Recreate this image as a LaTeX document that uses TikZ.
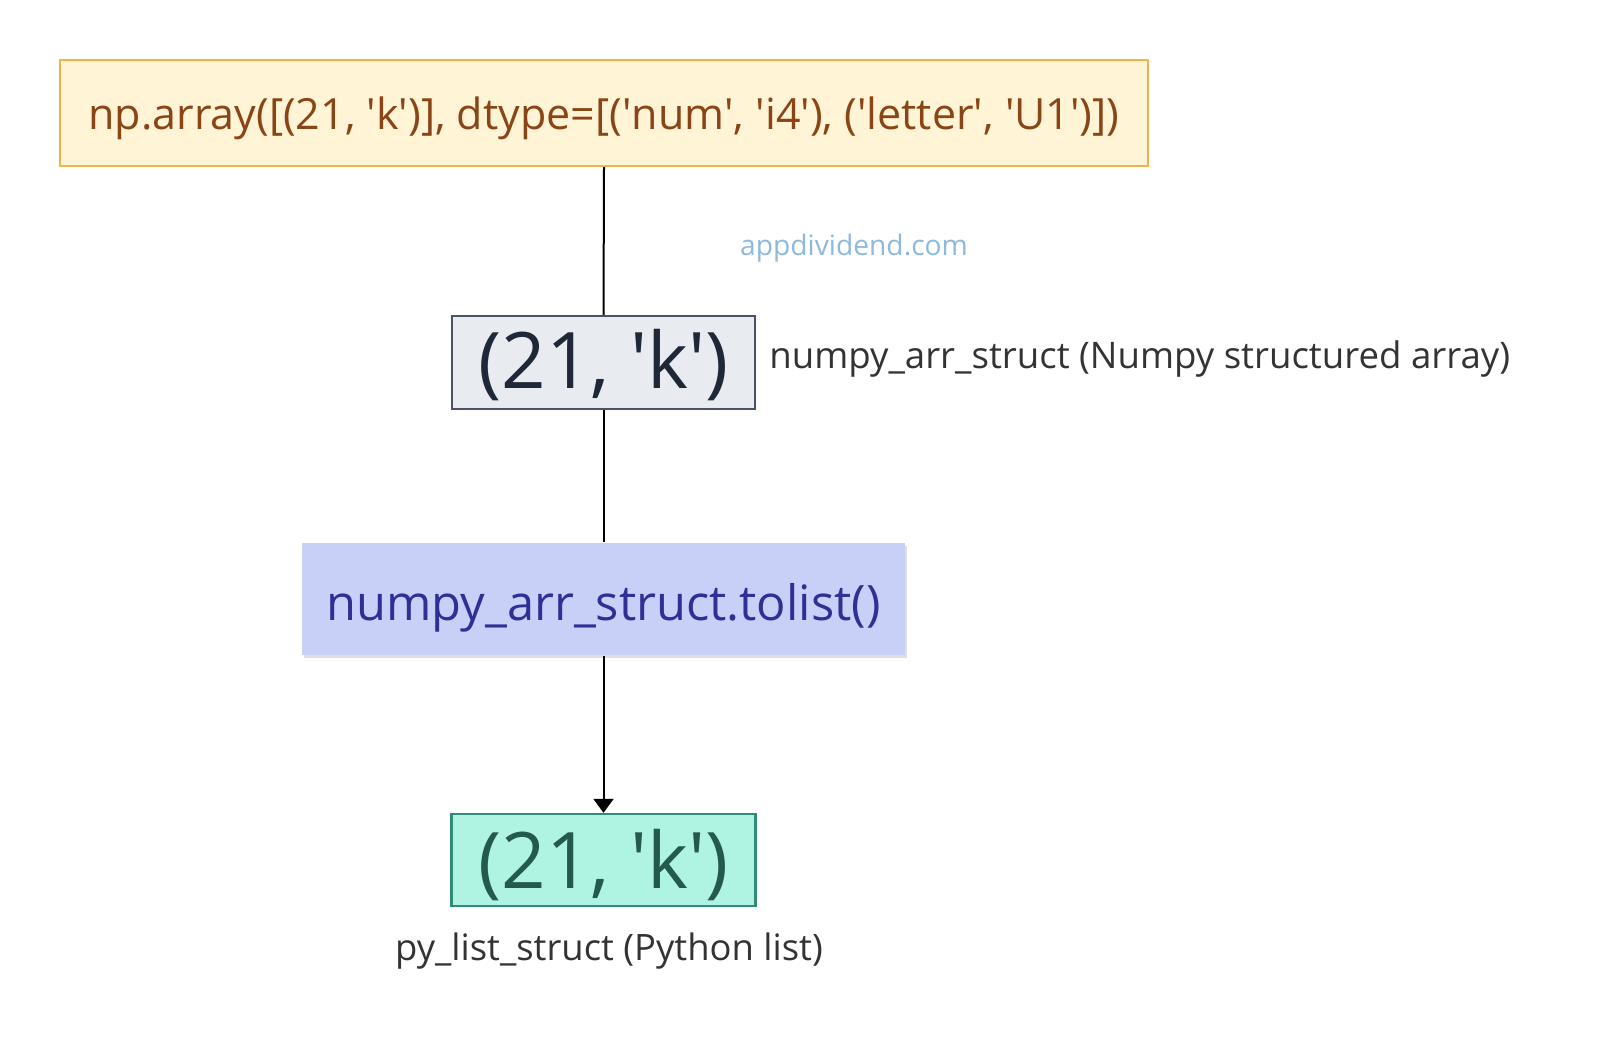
\documentclass[tikz,border=0pt]{standalone}
\usepackage{fontspec}
\setmainfont{Open Sans}
\usetikzlibrary{arrows.meta,shadows}
\newcommand{\sq}{\textquotesingle}
\definecolor{topfill}{HTML}{FFF5D6}
\definecolor{topdraw}{HTML}{F0B24A}
\definecolor{toptext}{HTML}{8A4516}
\definecolor{greyfill}{HTML}{E8ECF1}
\definecolor{greydraw}{HTML}{4B5262}
\definecolor{greytext}{HTML}{1F2836}
\definecolor{bluefill}{HTML}{C8D0F8}
\definecolor{bluetext}{HTML}{2F2F96}
\definecolor{mintfill}{HTML}{AFF3E3}
\definecolor{mintdraw}{HTML}{2F8C78}
\definecolor{minttext}{HTML}{24594F}
\definecolor{labeltext}{HTML}{333333}
\definecolor{wmark}{HTML}{8EB9DE}
\tikzset{
  box/.style={inner sep=0pt, line width=1.2pt},
  txt/.style={inner sep=0pt},
  conn/.style={line width=1pt, black},
}
\begin{document}
\begin{tikzpicture}[x=0.5pt,y=-0.5pt]
\useasboundingbox (0,0) rectangle (1600,1045);
\node[box, draw=topdraw, fill=topfill, minimum width=544pt, minimum height=53pt] (top) at (604,113) {};
\node[txt, text=toptext, font=\fontsize{21.5}{26}\selectfont, yshift=-2.5pt] (toptxt) at (top.center) {np.array([(21, \sq k\sq)], dtype=[(\sq num\sq, \sq i4\sq), (\sq letter\sq, \sq U1\sq)])};
\node[text=wmark, font=\fontsize{14.1}{17}\selectfont] (wm) at (854,248) {appdividend.com};
\node[box, draw=greydraw, fill=greyfill, minimum width=151.5pt, minimum height=46.5pt] (arr) at (603.5,362.5) {};
\node[txt, text=greytext, font=\fontsize{39}{46}\selectfont, yshift=-1.5pt] (arrtxt) at (arr.center) {(21, \sq k\sq)};
\node[anchor=west, text=labeltext, font=\fontsize{18.3}{22}\selectfont, inner sep=0pt] (arrlab) at (769,359) {numpy\_arr\_struct (Numpy structured array)};
\node[box, fill=bluefill, minimum width=301.5pt, minimum height=56pt, drop shadow={shadow xshift=1pt, shadow yshift=-1.5pt, opacity=0.25}] (call) at (603.5,599) {};
\node[txt, text=bluetext, font=\fontsize{24.4}{29}\selectfont, yshift=-4.5pt] (calltxt) at (call.center) {numpy\_arr\_struct.tolist()};
\node[box, draw=mintdraw, fill=mintfill, minimum width=152pt, minimum height=46pt] (lst) at (603.5,860) {};
\node[txt, text=minttext, font=\fontsize{39}{46}\selectfont, yshift=-2.5pt] (lsttxt) at (lst.center) {(21, \sq k\sq)};
\node[text=labeltext, font=\fontsize{18.2}{22}\selectfont, inner sep=0pt] (lstlab) at (609,951) {py\_list\_struct (Python list)};
\draw[conn] (top.south) -- (arr.north);
\draw[conn] (arr.south) -- (call.north);
\draw[conn, -{Triangle[width=10pt,length=7pt]}] (call.south) -- (lst.north);
\end{tikzpicture}
\end{document}
